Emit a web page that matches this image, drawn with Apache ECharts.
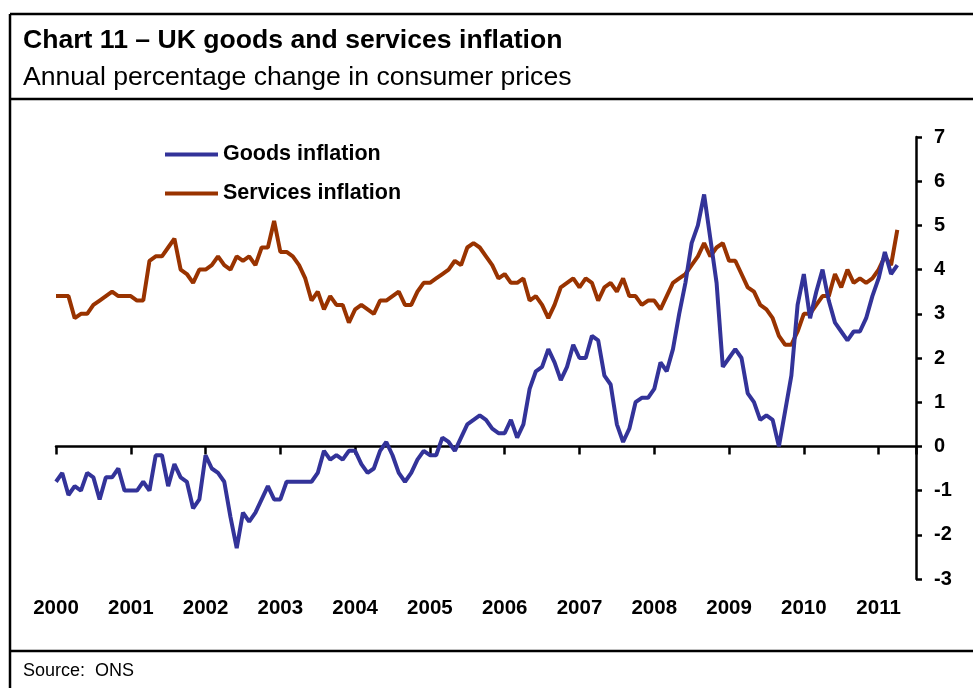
<!DOCTYPE html>
<html>
<head>
<meta charset="utf-8">
<script src="https://cdn.jsdelivr.net/npm/echarts@6/dist/echarts.min.js"></script>
<style>
  html, body { margin: 0; padding: 0; background: #fff; }
  #chart { width: 973px; height: 688px; }
</style>
</head>
<body>
<div id="chart"></div>
<script>
// Monthly annual % change, Jan 2000 onwards (index 0 = Jan 2000)
const goods = [
  -0.8, -0.6, -1.1, -0.9, -1.0, -0.6, -0.7, -1.2, -0.7, -0.7, -0.5, -1.0,   // 2000
  -1.0, -1.0, -0.8, -1.0, -0.2, -0.2, -0.9, -0.4, -0.7, -0.8, -1.4, -1.2,   // 2001
  -0.2, -0.5, -0.6, -0.8, -1.6, -2.3, -1.5, -1.7, -1.5, -1.2, -0.9, -1.2,   // 2002
  -1.2, -0.8, -0.8, -0.8, -0.8, -0.8, -0.6, -0.1, -0.3, -0.2, -0.3, -0.1,   // 2003
  -0.1, -0.4, -0.6, -0.5, -0.1,  0.1, -0.2, -0.6, -0.8, -0.6, -0.3, -0.1,   // 2004
  -0.2, -0.2,  0.2,  0.1, -0.1,  0.2,  0.5,  0.6,  0.7,  0.6,  0.4,  0.3,   // 2005
   0.3,  0.6,  0.2,  0.5,  1.3,  1.7,  1.8,  2.2,  1.9,  1.5,  1.8,  2.3,   // 2006
   2.0,  2.0,  2.5,  2.4,  1.6,  1.4,  0.5,  0.1,  0.4,  1.0,  1.1,  1.1,   // 2007
   1.3,  1.9,  1.7,  2.2,  3.0,  3.7,  4.6,  5.0,  5.7,  4.7,  3.7,  1.8,   // 2008
   2.0,  2.2,  2.0,  1.2,  1.0,  0.6,  0.7,  0.6,  0.0,  0.8,  1.6,  3.2,   // 2009
   3.9,  2.9,  3.5,  4.0,  3.3,  2.8,  2.6,  2.4,  2.6,  2.6,  2.9,  3.4,   // 2010
   3.8,  4.4,  3.9,  4.1                                                    // 2011
];
const services = [
   3.4,  3.4,  3.4,  2.9,  3.0,  3.0,  3.2,  3.3,  3.4,  3.5,  3.4,  3.4,   // 2000
   3.4,  3.3,  3.3,  4.2,  4.3,  4.3,  4.5,  4.7,  4.0,  3.9,  3.7,  4.0,   // 2001
   4.0,  4.1,  4.3,  4.1,  4.0,  4.3,  4.2,  4.3,  4.1,  4.5,  4.5,  5.1,   // 2002
   4.4,  4.4,  4.3,  4.1,  3.8,  3.3,  3.5,  3.1,  3.4,  3.2,  3.2,  2.8,   // 2003
   3.1,  3.2,  3.1,  3.0,  3.3,  3.3,  3.4,  3.5,  3.2,  3.2,  3.5,  3.7,   // 2004
   3.7,  3.8,  3.9,  4.0,  4.2,  4.1,  4.5,  4.6,  4.5,  4.3,  4.1,  3.8,   // 2005
   3.9,  3.7,  3.7,  3.8,  3.3,  3.4,  3.2,  2.9,  3.2,  3.6,  3.7,  3.8,   // 2006
   3.6,  3.8,  3.7,  3.3,  3.6,  3.7,  3.5,  3.8,  3.4,  3.4,  3.2,  3.3,   // 2007
   3.3,  3.1,  3.4,  3.7,  3.8,  3.9,  4.1,  4.3,  4.6,  4.3,  4.5,  4.6,   // 2008
   4.2,  4.2,  3.9,  3.6,  3.5,  3.2,  3.1,  2.9,  2.5,  2.3,  2.3,  2.6,   // 2009
   3.0,  3.0,  3.2,  3.4,  3.4,  3.9,  3.6,  4.0,  3.7,  3.8,  3.7,  3.8,   // 2010
   4.0,  4.3,  4.1,  4.9                                                    // 2011
];
const firstYear = 2000;
const yearTicks = [2000, 2001, 2002, 2003, 2004, 2005, 2006, 2007, 2008, 2009, 2010, 2011];
const yTicks = { min: -3, max: 7, step: 1 };
const monthSpan = 138;   // axis runs Jan 2000 to Jul 2011

const FONT = '"Liberation Sans", Arial, sans-serif';
const INK = '#000000';

const chart = echarts.init(document.getElementById('chart'), null, { renderer: 'canvas' });

const toPairs = arr => arr.map((v, i) => [i, v]);

const option = {
  animation: false,
  backgroundColor: '#ffffff',
  textStyle: { fontFamily: FONT },
  grid: { left: 56, right: 57, top: 137, bottom: 109, containLabel: false },
  legend: {
    orient: 'vertical',
    left: 165,
    top: 143,
    padding: 0,
    icon: 'rect',
    itemWidth: 53,
    itemHeight: 4,
    itemGap: 16,
    selectedMode: false,
    textStyle: { fontFamily: FONT, fontWeight: 'bold', fontSize: 21.5, color: INK, lineHeight: 23 },
    data: ['Goods inflation', 'Services inflation']
  },
  xAxis: [
    {
      // zero line with yearly ticks
      type: 'value',
      min: 0,
      max: monthSpan,
      interval: 12,
      axisLine: { onZero: true, lineStyle: { color: INK, width: 2.5 } },
      axisTick: { show: true, length: 8, lineStyle: { color: INK, width: 2.5 } },
      axisLabel: { show: false },
      splitLine: { show: false }
    },
    {
      // year labels along the bottom
      type: 'value',
      position: 'bottom',
      min: 0,
      max: monthSpan,
      interval: 12,
      axisLine: { show: false, onZero: false },
      axisTick: { show: false },
      splitLine: { show: false },
      axisLabel: {
        margin: 19,
        fontFamily: FONT,
        fontWeight: 'bold',
        fontSize: 20.5,
        color: INK,
        showMaxLabel: false,
        formatter: v => {
          const y = firstYear + Math.round(v / 12);
          return yearTicks.indexOf(y) >= 0 ? String(y) : '';
        }
      }
    }
  ],
  yAxis: {
    type: 'value',
    position: 'right',
    min: yTicks.min,
    max: yTicks.max,
    interval: yTicks.step,
    axisLine: { show: true, onZero: false, lineStyle: { color: INK, width: 2.5 } },
    axisTick: { show: true, length: 6, lineStyle: { color: INK, width: 2.5 } },
    axisLabel: { margin: 18, fontFamily: FONT, fontWeight: 'bold', fontSize: 20, color: INK },
    splitLine: { show: false }
  },
  series: [
    {
      name: 'Goods inflation',
      type: 'line',
      xAxisIndex: 0,
      data: toPairs(goods),
      showSymbol: false,
      symbol: 'none',
      lineStyle: { color: '#333399', width: 4 },
      itemStyle: { color: '#333399' },
      z: 3
    },
    {
      name: 'Services inflation',
      type: 'line',
      xAxisIndex: 0,
      data: toPairs(services),
      showSymbol: false,
      symbol: 'none',
      lineStyle: { color: '#993300', width: 4 },
      itemStyle: { color: '#993300' },
      z: 2
    }
  ],
  graphic: [
    // frame
    { type: 'line', shape: { x1: 10, y1: 14, x2: 973, y2: 14 }, style: { stroke: INK, lineWidth: 2.5 } },
    { type: 'line', shape: { x1: 10, y1: 14, x2: 10, y2: 688 }, style: { stroke: INK, lineWidth: 2.5 } },
    { type: 'line', shape: { x1: 10, y1: 99, x2: 973, y2: 99 }, style: { stroke: INK, lineWidth: 2.5 } },
    { type: 'line', shape: { x1: 10, y1: 651, x2: 973, y2: 651 }, style: { stroke: INK, lineWidth: 2.5 } },
    // headings
    { type: 'text', left: 23, top: 27, style: { text: 'Chart 11 – UK goods and services inflation', font: 'bold 26.6px ' + FONT, fill: INK } },
    { type: 'text', left: 23, top: 64, style: { text: 'Annual percentage change in consumer prices', font: '26.6px ' + FONT, fill: INK } },
    { type: 'text', left: 23, top: 662, style: { text: 'Source:  ONS', font: '18px ' + FONT, fill: INK } }
  ]
};

chart.setOption(option);
</script>
</body>
</html>
